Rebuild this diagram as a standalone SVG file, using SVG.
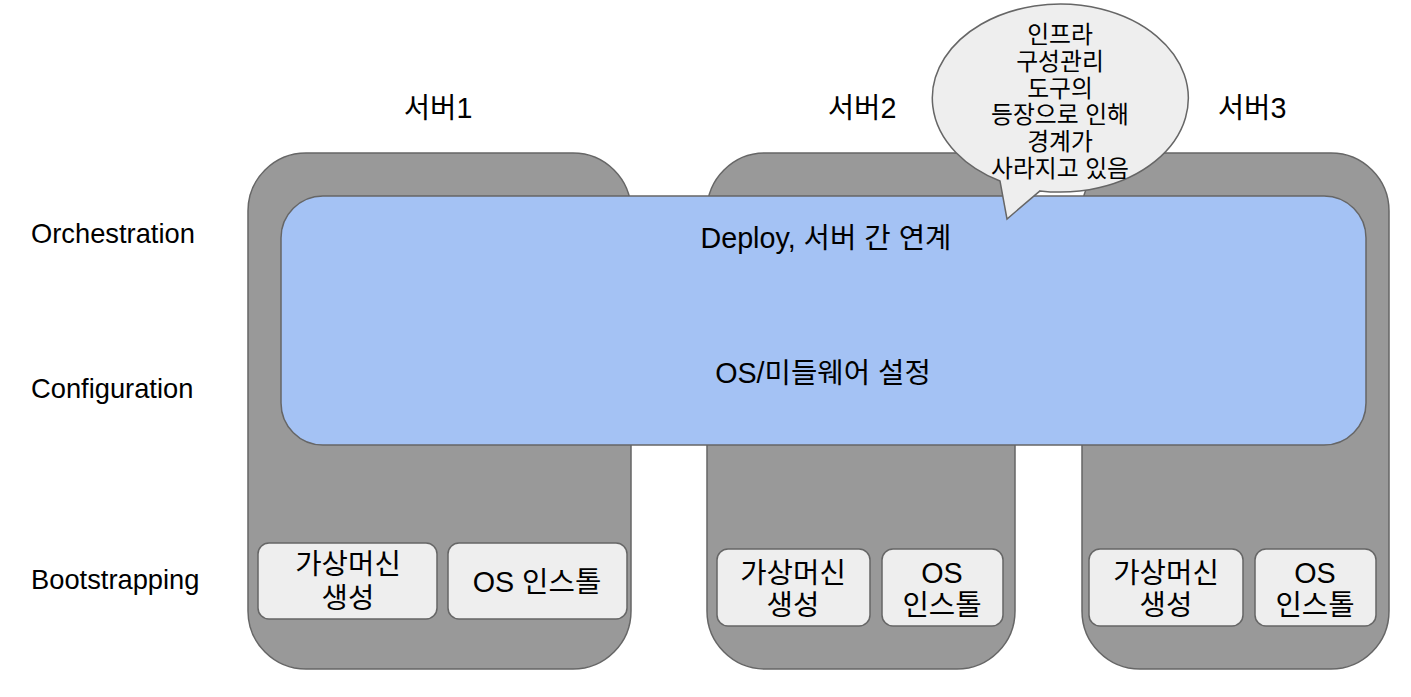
<svg xmlns="http://www.w3.org/2000/svg" width="1411" height="697" viewBox="0 0 1411 697">
<style>
.srv{fill:#999999;stroke:#666666;stroke-width:1.5}
.blue{fill:#A4C2F4;stroke:#666666;stroke-width:1.5}
.box{fill:#EEEEEE;stroke:#666666;stroke-width:1.5}
.bub{fill:#EEEEEE;stroke:#666666;stroke-width:1.5}
text{font-family:"Liberation Sans","Noto Sans CJK KR",sans-serif;fill:#000000}
.lab{font-size:27.3px}
.ko{font-size:28.7px}
.mid{text-anchor:middle}
.sm{font-size:23.8px;text-anchor:middle}
</style>
<rect width="1411" height="697" fill="#ffffff"/>
<g id="layer-labels">
<text class="lab" x="31" y="243">Orchestration</text>
<text class="lab" x="31" y="398">Configuration</text>
<text class="lab" x="31" y="589">Bootstrapping</text>
</g>
<g id="server-titles">
<text class="ko mid" x="438" y="118">서버1</text>
<text class="ko mid" x="862" y="118">서버2</text>
<text class="ko mid" x="1252" y="118">서버3</text>
</g>
<g id="server1"><rect class="srv" x="248" y="153" width="383" height="516" rx="58" ry="58"/></g>
<g id="server2"><rect class="srv" x="707" y="153" width="308" height="516" rx="58" ry="58"/></g>
<g id="server3"><rect class="srv" x="1082" y="153" width="307" height="516" rx="58" ry="58"/></g>
<g id="orchestration-band">
<rect class="blue" x="281" y="196" width="1085" height="249" rx="42" ry="42"/>
<text class="ko mid" x="826" y="248">Deploy, 서버 간 연계</text>
<text class="ko mid" x="823" y="383">OS/미들웨어 설정</text>
</g>
<g id="s1-vm">
<rect class="box" x="258" y="543" width="179" height="76" rx="11" ry="11"/>
<text class="ko mid" x="348" y="574">가상머신</text>
<text class="ko mid" x="348" y="608">생성</text>
</g>
<g id="s1-os">
<rect class="box" x="448" y="543" width="179" height="76" rx="11" ry="11"/>
<text class="ko mid" x="537" y="592">OS 인스톨</text>
</g>
<g id="s2-vm">
<rect class="box" x="717" y="549" width="153" height="77" rx="11" ry="11"/>
<text class="ko mid" x="793" y="583">가상머신</text>
<text class="ko mid" x="793" y="615">생성</text>
</g>
<g id="s2-os">
<rect class="box" x="882" y="549" width="121" height="77" rx="11" ry="11"/>
<text class="ko mid" x="942" y="583">OS</text>
<text class="ko mid" x="942" y="615">인스톨</text>
</g>
<g id="s3-vm">
<rect class="box" x="1089" y="549" width="154" height="77" rx="11" ry="11"/>
<text class="ko mid" x="1166" y="583">가상머신</text>
<text class="ko mid" x="1166" y="615">생성</text>
</g>
<g id="s3-os">
<rect class="box" x="1255" y="549" width="121" height="77" rx="11" ry="11"/>
<text class="ko mid" x="1315" y="583">OS</text>
<text class="ko mid" x="1315" y="615">인스톨</text>
</g>
<g id="callout">
<path class="bub" d="M 1040 190.9 A 128 94 0 1 0 1000 181 L 1007 219 Z"/>
<text class="sm" x="1060" y="43">인프라</text>
<text class="sm" x="1060" y="70">구성관리</text>
<text class="sm" x="1060" y="97">도구의</text>
<text class="sm" x="1060" y="123">등장으로 인해</text>
<text class="sm" x="1060" y="150">경계가</text>
<text class="sm" x="1060" y="177">사라지고 있음</text>
</g>
<g id="connectors"></g>
</svg>
